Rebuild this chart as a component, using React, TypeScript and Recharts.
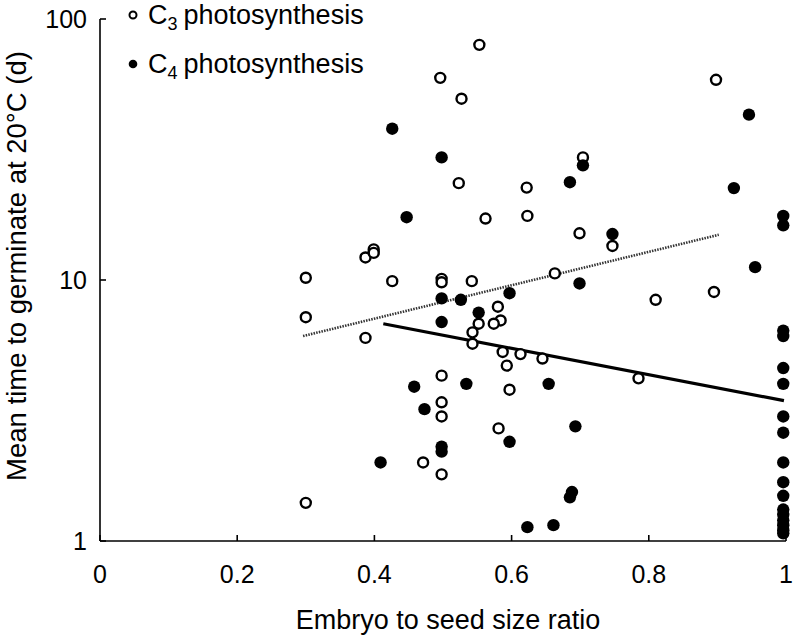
import { Scatter, ScatterChart, XAxis, YAxis } from "recharts";

// C3 species: [embryo:seed ratio, mean days to germinate]
const c3Points: [number, number][] = [
  [0.3, 1.4], [0.3, 7.2], [0.3, 10.2], [0.387, 6.0], [0.387, 12.2],
  [0.399, 13.1], [0.399, 12.7], [0.426, 9.9], [0.496, 59.5], [0.527, 49.5],
  [0.553, 79.6], [0.523, 23.5], [0.562, 17.2], [0.622, 22.6], [0.623, 17.6],
  [0.498, 10.1], [0.498, 9.8], [0.542, 9.9], [0.898, 58.5], [0.704, 29.5],
  [0.699, 15.1], [0.747, 13.5], [0.663, 10.6], [0.58, 7.9], [0.584, 7.0],
  [0.574, 6.8], [0.552, 6.8], [0.543, 6.3], [0.543, 5.7], [0.587, 5.3],
  [0.613, 5.2], [0.593, 4.7], [0.597, 3.8], [0.498, 4.3], [0.498, 3.4],
  [0.498, 3.0], [0.581, 2.7], [0.471, 2.0], [0.498, 1.8], [0.81, 8.4],
  [0.895, 9.0], [0.645, 5.0], [0.785, 4.2],
];

// C4 species
const c4Points: [number, number][] = [
  [0.426, 38], [0.498, 29.5], [0.447, 17.4], [0.704, 27.5], [0.685, 23.7],
  [0.946, 43], [0.924, 22.5], [0.747, 15], [0.955, 11.2], [0.699, 9.7],
  [0.498, 8.5], [0.526, 8.4], [0.597, 8.9], [0.498, 6.9], [0.552, 7.5],
  [0.458, 3.9], [0.534, 4.0], [0.473, 3.2], [0.597, 2.4], [0.498, 2.3],
  [0.498, 2.2], [0.409, 2.0], [0.623, 1.13], [0.654, 4.0], [0.693, 2.75],
  [0.688, 1.54], [0.685, 1.47], [0.661, 1.15],
  [0.996, 17.6], [0.996, 16.2], [0.996, 6.4], [0.996, 6.1], [0.996, 4.6],
  [0.996, 4.0], [0.996, 3.0], [0.996, 2.6], [0.996, 2.0], [0.996, 1.68],
  [0.996, 1.49], [0.996, 1.32], [0.996, 1.26], [0.996, 1.2], [0.996, 1.15],
  [0.996, 1.1], [0.996, 1.07],
];

// fitted regression lines (end points)
const c3Fit: [number, number][] = [[0.296, 6.1], [0.902, 14.9]];
const c4Fit: [number, number][] = [[0.413, 6.8], [0.997, 3.45]];

const xTicks = [0, 0.2, 0.4, 0.6, 0.8, 1];
const yTicks = [1, 10, 100];

const toRows = (pts: [number, number][]) => pts.map(([x, y]) => ({ x, y }));

const FONT = "'Liberation Sans', Arial, Helvetica, sans-serif";

const OpenDot = (p: any) => (
  <circle cx={p.cx} cy={p.cy} r={5} fill="#fff" stroke="#000" strokeWidth={2.4} />
);
const FilledDot = (p: any) => <circle cx={p.cx} cy={p.cy} r={6.2} fill="#000" />;
const NoDot = () => null;

// legend sits over the top of the plot, like the original
function LegendOverlay() {
  const item = (filled: boolean, sub: string, y: number) => (
    <g>
      <circle
        cx={133}
        cy={y}
        r={filled ? 4.3 : 3.5}
        fill={filled ? "#000" : "#fff"}
        stroke="#000"
        strokeWidth={filled ? 0 : 2}
      />
      <text x={148} y={y + 9} fontSize={27} fontFamily={FONT} fill="#000">
        C
        <tspan fontSize={18} dy={6}>{sub}</tspan>
        <tspan dy={-6} dx={6}>photosynthesis</tspan>
      </text>
    </g>
  );
  return (
    <svg
      width={400}
      height={90}
      style={{ position: "absolute", left: 0, top: 0, pointerEvents: "none" }}
    >
      {item(false, "3", 15)}
      {item(true, "4", 64)}
    </svg>
  );
}

export default function App() {
  return (
    <div style={{ position: "absolute", left: 0, top: 0, width: 797, height: 635, background: "#fff" }}>
      <ScatterChart
        width={797}
        height={635}
        margin={{ top: 19, right: 11, left: 0, bottom: 0 }}
      >
        <XAxis
          type="number"
          dataKey="x"
          domain={[0, 1]}
          ticks={xTicks}
          height={94}
          axisLine={{ stroke: "#000", strokeWidth: 1.6 }}
          tickLine={{ stroke: "#000", strokeWidth: 1.6 }}
          tickSize={-6}
          tickMargin={30}
          tick={{ fill: "#000", fontSize: 25, fontFamily: FONT }}
          label={{
            value: "Embryo to seed size ratio",
            position: "insideBottom",
            offset: 6,
            dx: 5,
            fill: "#000",
            fontSize: 27,
            fontFamily: FONT,
          }}
        />
        <YAxis
          type="number"
          dataKey="y"
          scale="log"
          domain={[1, 100]}
          ticks={yTicks}
          allowDataOverflow
          width={100}
          axisLine={{ stroke: "#000", strokeWidth: 1.6 }}
          tickLine={{ stroke: "#000", strokeWidth: 1.6 }}
          tickSize={-6}
          tickMargin={19}
          tick={{ fill: "#000", fontSize: 25, fontFamily: FONT }}
          label={{
            content: () => (
              <text
                x={26}
                y={266}
                transform="rotate(-90, 26, 266)"
                textAnchor="middle"
                fontSize={27.5}
                fontFamily={FONT}
                fill="#000"
              >
                Mean time to germinate at 20°C (d)
              </text>
            ),
          }}
        />
        <Scatter
          name="C3 fit"
          data={toRows(c3Fit)}
          line={{ stroke: "#333", strokeWidth: 2.6, strokeDasharray: "1.5 1.2" }}
          shape={NoDot}
          isAnimationActive={false}
          legendType="none"
        />
        <Scatter
          name="C4 fit"
          data={toRows(c4Fit)}
          line={{ stroke: "#000", strokeWidth: 3.2 }}
          shape={NoDot}
          isAnimationActive={false}
          legendType="none"
        />
        <Scatter
          name="C3 photosynthesis"
          data={toRows(c3Points)}
          shape={OpenDot}
          isAnimationActive={false}
        />
        <Scatter
          name="C4 photosynthesis"
          data={toRows(c4Points)}
          shape={FilledDot}
          isAnimationActive={false}
        />
      </ScatterChart>
      <LegendOverlay />
    </div>
  );
}
